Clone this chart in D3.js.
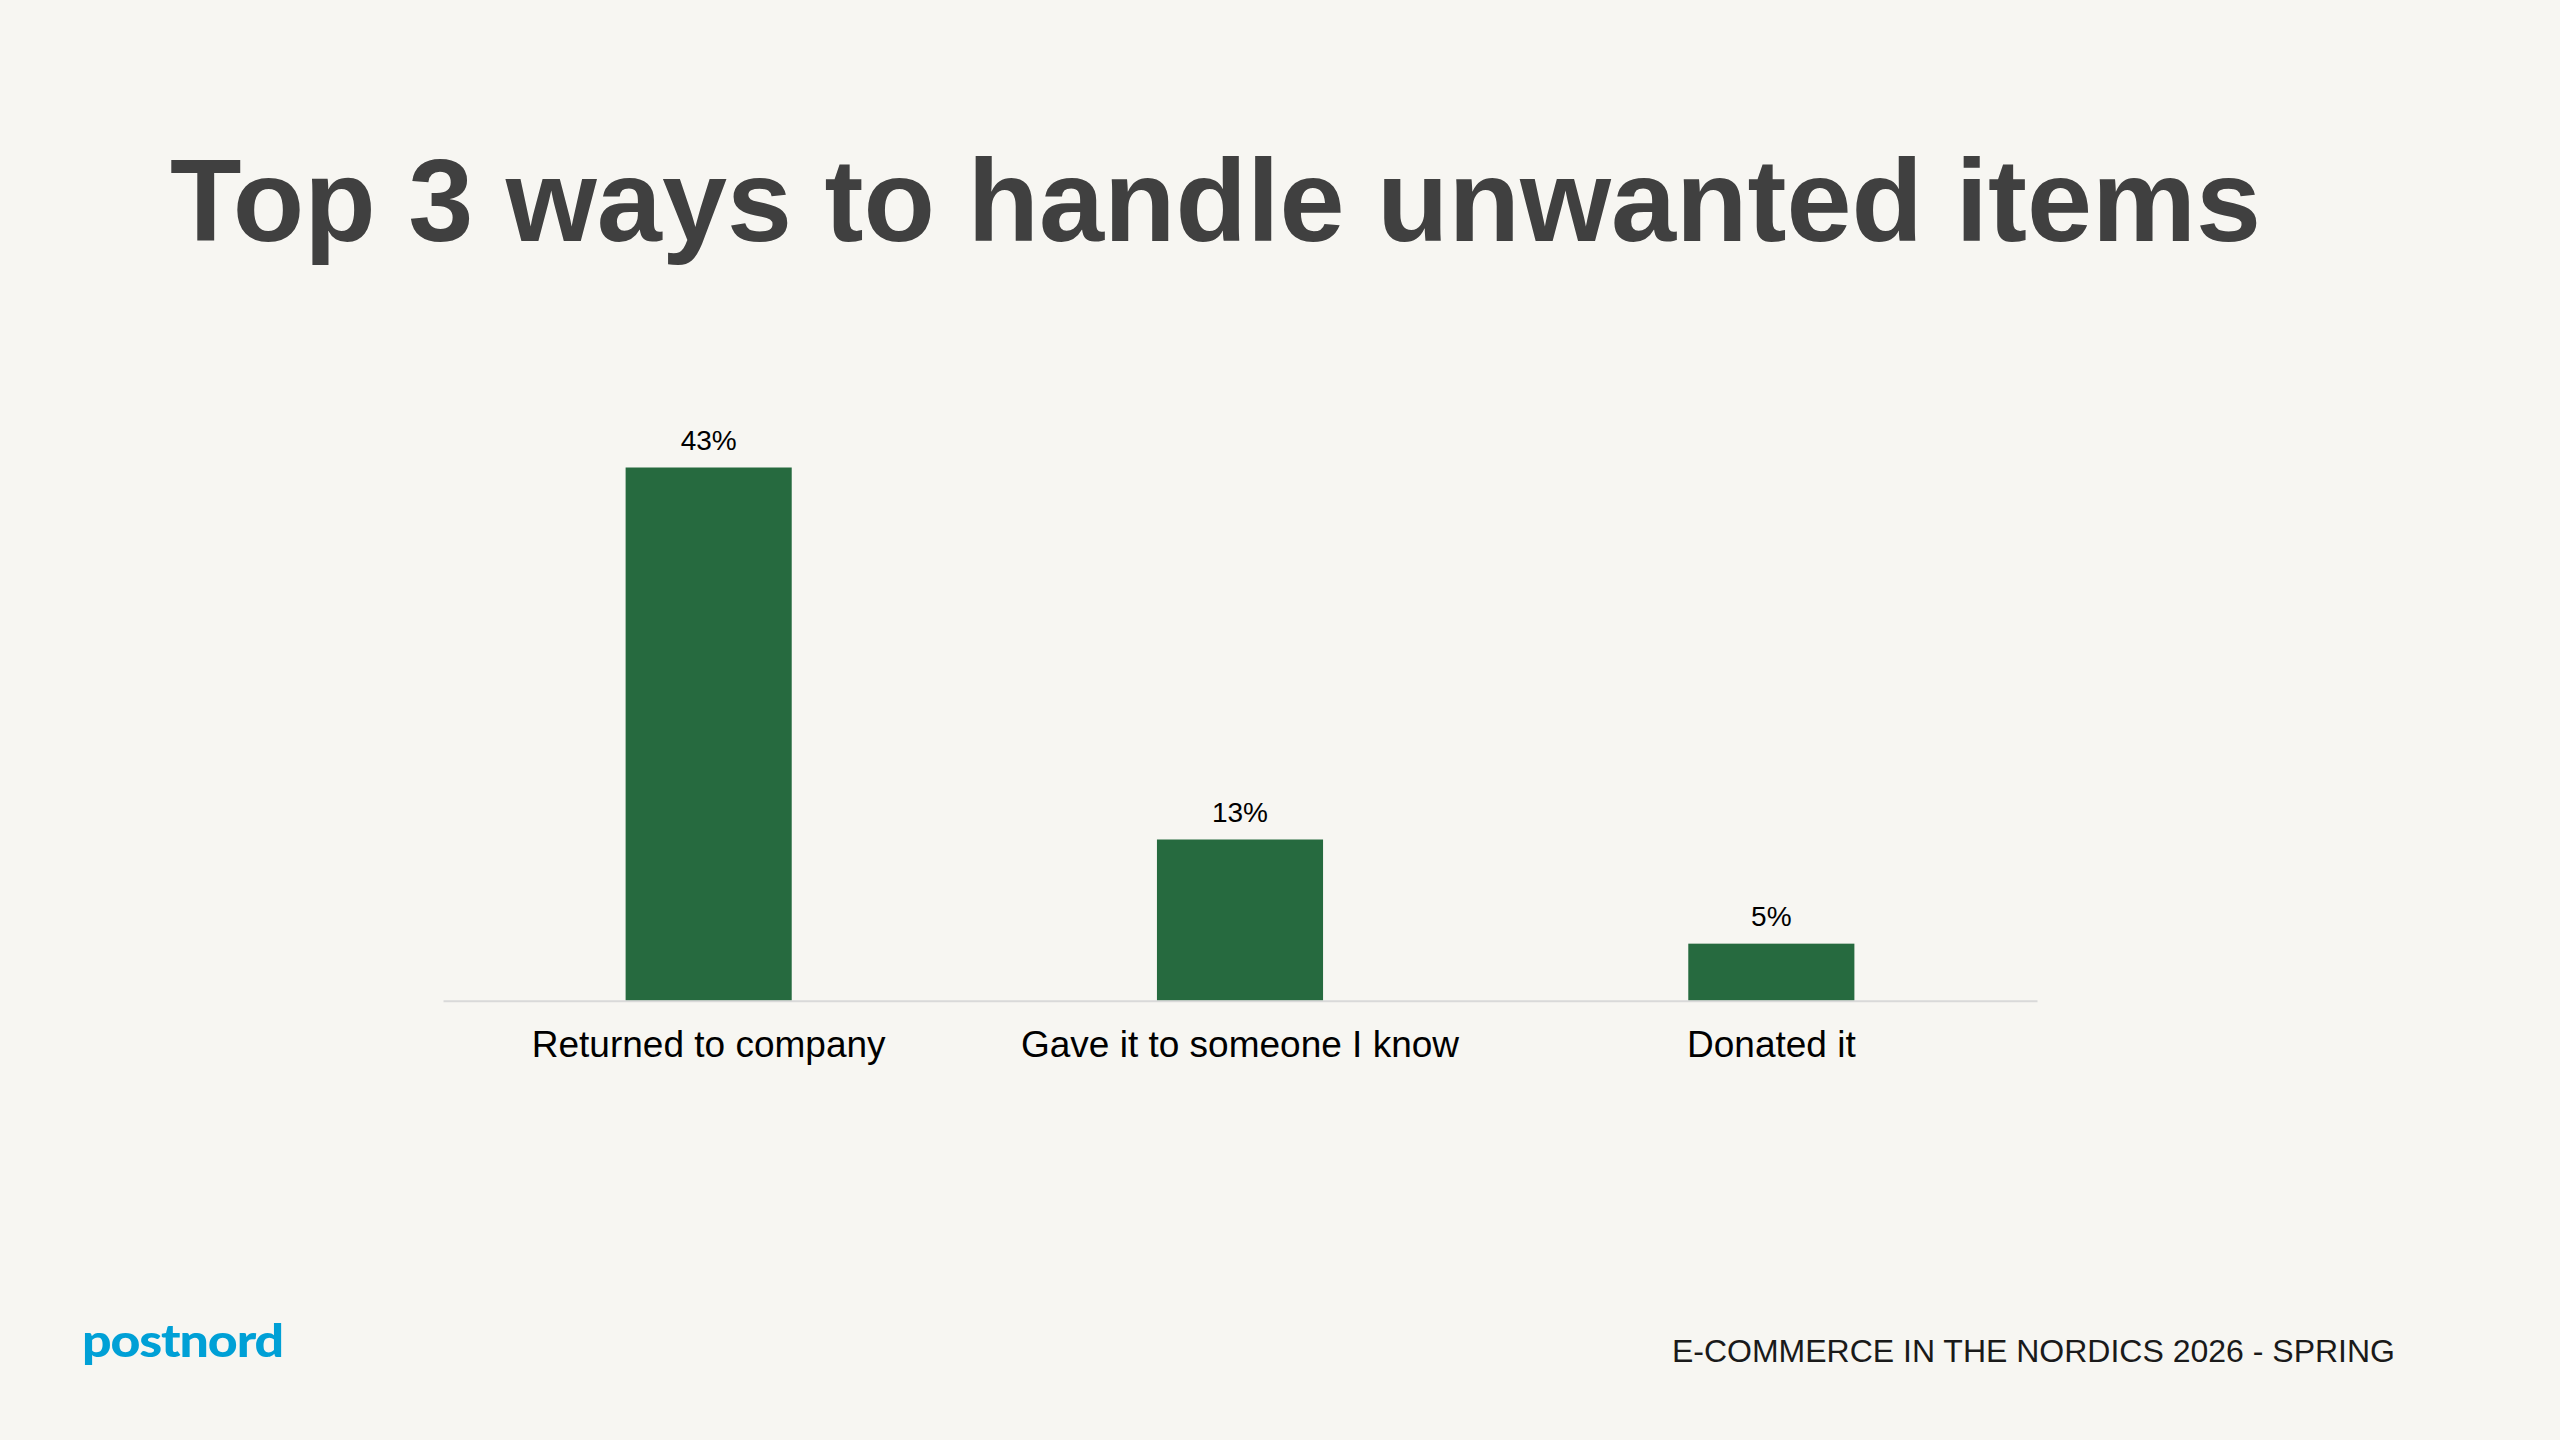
<!DOCTYPE html>
<html>
<head>
<meta charset="utf-8">
<script src="https://cdn.jsdelivr.net/npm/d3@7"></script>
<style>
  html, body { margin: 0; padding: 0; background: #F7F6F2; }
  svg { display: block; }
</style>
</head>
<body>
<script>
const categories = ["Returned to company", "Gave it to someone I know", "Donated it"];
const values = [43, 13, 4.6];
const valueLabels = ["43%", "13%", "5%"];
const titleText = "Top 3 ways to handle unwanted items";
const footerText = "E-COMMERCE IN THE NORDICS 2026 - SPRING";
const logoText = "postnord";

const W = 2560, H = 1440;
const svg = d3.select("body").append("svg").attr("width", W).attr("height", H);
svg.append("rect").attr("width", W).attr("height", H).attr("fill", "#F7F6F2");

svg.append("text")
  .attr("x", 170).attr("y", 240.7)
  .attr("font-family", "Liberation Sans, Arial, sans-serif")
  .attr("font-weight", "bold")
  .attr("font-size", 117)
  .attr("fill", "#404040")
  .text(titleText);

const p = 1 - 166 / 531;
const x = d3.scaleBand().domain(categories).range([443, 2037]).paddingInner(p).paddingOuter(p / 2);
const y = d3.scaleLinear().domain([0, 43]).range([1000.7, 467.5]);

const g = svg.append("g");
g.selectAll("rect.bar").data(categories).join("rect")
  .attr("class", "bar")
  .attr("x", d => x(d))
  .attr("width", x.bandwidth())
  .attr("y", (d, i) => y(values[i]))
  .attr("height", (d, i) => y(0) - y(values[i]))
  .attr("fill", "#266A3F");

// axis
const axis = d3.axisBottom(x).tickSize(0).tickPadding(0);
const ag = svg.append("g").attr("transform", `translate(0,${y(0)})`).call(axis);
ag.select(".domain").attr("stroke", "#D9D9D9").attr("stroke-width", 2);
ag.selectAll(".tick text")
  .attr("dy", null)
  .attr("y", 56.5)
  .attr("font-family", "Liberation Sans, Arial, sans-serif")
  .attr("font-size", 37)
  .attr("fill", "#000");

g.selectAll("text.val").data(categories).join("text")
  .attr("class", "val")
  .attr("x", d => x(d) + x.bandwidth() / 2)
  .attr("y", (d, i) => y(values[i]) - 17.5)
  .attr("text-anchor", "middle")
  .attr("font-family", "Liberation Sans, Arial, sans-serif")
  .attr("font-size", 28)
  .attr("fill", "#000")
  .text((d, i) => valueLabels[i]);

svg.append("text")
  .attr("x", 2395).attr("y", 1361.7)
  .attr("text-anchor", "end")
  .attr("font-family", "Liberation Sans, Arial, sans-serif")
  .attr("font-size", 32)
  .attr("fill", "#1A1A1A")
  .text(footerText);

svg.append("text")
  .attr("x", 82).attr("y", 1357)
  .attr("font-family", "Lato, Roboto, sans-serif")
  .attr("font-weight", 900)
  .attr("font-size", 46)
  .attr("letter-spacing", -1)
  .attr("textLength", 201)
  .attr("lengthAdjust", "spacingAndGlyphs")
  .attr("fill", "#00A0D6")
  .text(logoText);
</script>
</body>
</html>
